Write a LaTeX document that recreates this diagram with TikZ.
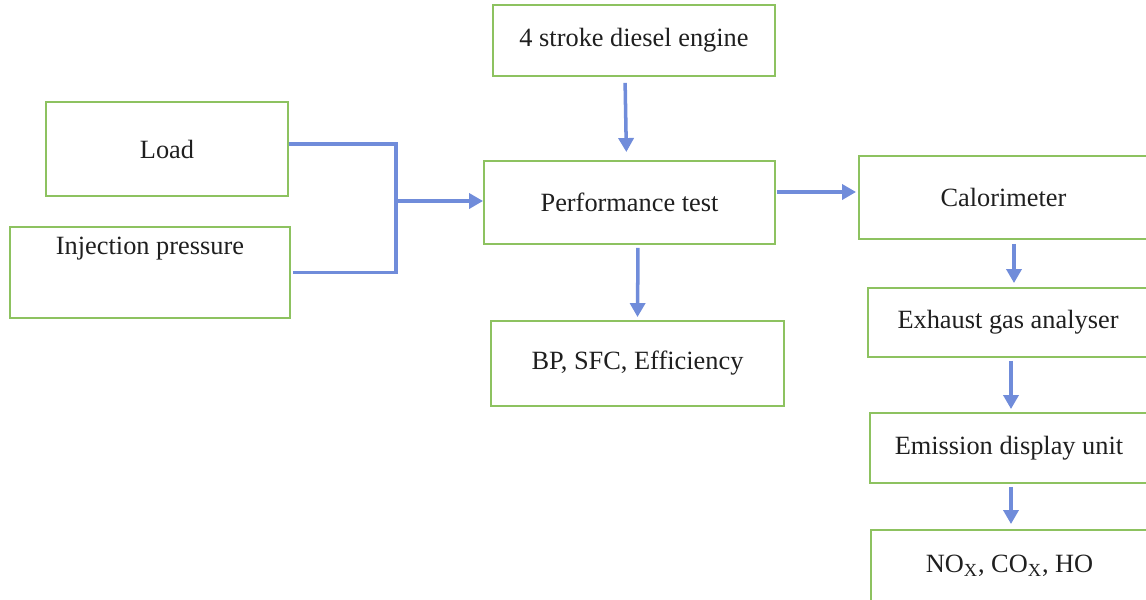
\documentclass[tikz,border=0pt]{standalone}
\usepackage{fontspec}
\setmainfont{Liberation Serif}
\usetikzlibrary{positioning,arrows.meta,calc}
\definecolor{boxgreen}{RGB}{141,194,96}
\definecolor{flowblue}{RGB}{112,140,218}
\tikzset{
  box/.style   = {draw=boxgreen, line width=1.1pt, align=center, inner sep=0pt,
                  text=black!88, font=\fontsize{15}{18}\selectfont},
  line/.style  = {draw=flowblue, line width=2pt},
  arrow/.style = {line, -{Triangle[length=0.28cm,width=0.3cm]}},
}
\begin{document}
\begin{tikzpicture}[x=0.02cm, y=-0.02cm]
  \path[use as bounding box, clip] (0,0) rectangle (1146,599);

  \node[box, minimum width=5.64cm, minimum height=1.42cm] (engine) at (634,40.5) {4 stroke diesel engine};
  \node[box, minimum width=4.84cm, minimum height=1.88cm] (load) at (167,149) {Load};
  \node[box, minimum width=5.60cm, minimum height=1.82cm, text height=0.34cm, text depth=1.06cm] (inj) at (150,272.5) {Injection pressure};
  \node[box, minimum width=5.82cm, minimum height=1.66cm] (perf) at (629.5,202.5) {Performance test};
  \node[box, minimum width=5.86cm, minimum height=1.70cm] (bp) at (637.5,363.5) {BP, SFC, Efficiency};

  \node[box, minimum width=5.78cm, minimum height=1.66cm] (cal) at (1003.5,197.5) {Calorimeter};
  \node[box, minimum width=5.60cm, minimum height=1.38cm] (exh) at (1008,322.5) {Exhaust gas analyser};
  \node[box, minimum width=5.56cm, minimum height=1.40cm] (emi) at (1009,448) {Emission display unit};
  \node[box, minimum width=5.54cm, minimum height=1.44cm] (nox) at (1009.5,566) {NO\textsubscript{X}, CO\textsubscript{X}, HO};

  \coordinate (bus) at (396,201);
  \draw[line] ([yshift=0.1cm]load.east) -| (bus) |- ([xshift=0.04cm]inj.east);
  \draw[arrow, shorten <=0.04cm] (bus) -- (bus -| perf.west);

  \draw[arrow, shorten <=0.12cm, shorten >=0.16cm] ([xshift=-0.18cm]engine.south) -- ([xshift=-0.06cm]perf.north);
  \draw[arrow, shorten <=0.06cm, shorten >=0.06cm] ([xshift=0.17cm]perf.south) -- (bp.north);
  \draw[arrow, shorten <=0.02cm, shorten >=0.04cm] ([yshift=0.21cm]perf.east) -- ([yshift=0.21cm]perf.east -| cal.west);
  \draw[arrow, shorten <=0.08cm, shorten >=0.08cm] ([xshift=0.21cm]cal.south) -- ([xshift=0.21cm]cal.south |- exh.north);
  \draw[arrow, shorten <=0.06cm, shorten >=0.06cm] ([xshift=0.06cm]exh.south) -- ([xshift=0.06cm]exh.south |- emi.north);
  \draw[arrow, shorten <=0.06cm, shorten >=0.10cm] ([xshift=0.04cm]emi.south) -- ([xshift=0.04cm]emi.south |- nox.north);
\end{tikzpicture}
\end{document}
